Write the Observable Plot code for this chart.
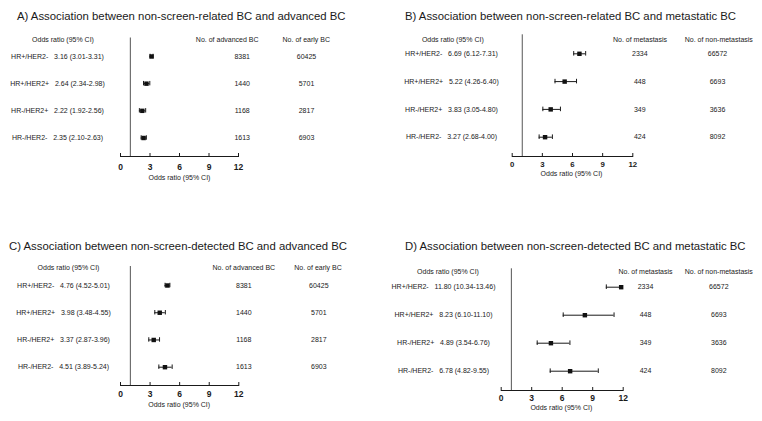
<!DOCTYPE html>
<html>
<head>
<meta charset="utf-8">
<script src="https://cdn.jsdelivr.net/npm/d3@7"></script>
<script src="https://cdn.jsdelivr.net/npm/@observablehq/plot@0.6"></script>
<style>
  body { margin: 0; background: #fff; }
  #fig { position: relative; width: 762px; height: 421px; overflow: hidden;
         font-family: "Liberation Sans", Arial, Helvetica, sans-serif; }
  .title { position: absolute; font-size: 11.35px; line-height: 1; white-space: nowrap; color: #1a1a1a; }
  .panel { position: absolute; }
</style>
</head>
<body>
<div id="fig"></div>
<script>
// Breast cancer subtypes (rows of every forest plot)
const subtypes = ["HR+/HER2-", "HR+/HER2+", "HR-/HER2+", "HR-/HER2-"];
const xTicks = [0, 3, 6, 9, 12];

// Case counts
const countAdvanced = [8381, 1440, 1168, 1613];
const countEarly = [60425, 5701, 2817, 6903];
const countMetastasis = [2334, 448, 349, 424];
const countNonMetastasis = [66572, 6693, 3636, 8092];

// A) non-screen-related BC vs advanced BC
const orA = [3.16, 2.64, 2.22, 2.35];
const loA = [3.01, 2.34, 1.92, 2.10];
const hiA = [3.31, 2.98, 2.56, 2.63];
// B) non-screen-related BC vs metastatic BC
const orB = [6.69, 5.22, 3.83, 3.27];
const loB = [6.12, 4.26, 3.05, 2.68];
const hiB = [7.31, 6.40, 4.80, 4.00];
// C) non-screen-detected BC vs advanced BC
const orC = [4.76, 3.98, 3.37, 4.51];
const loC = [4.52, 3.48, 2.87, 3.89];
const hiC = [5.01, 4.55, 3.96, 5.24];
// D) non-screen-detected BC vs metastatic BC
const orD = [11.80, 8.23, 4.89, 6.78];
const loD = [10.34, 6.10, 3.54, 4.82];
const hiD = [13.46, 11.10, 6.76, 9.55];

const titles = [
  "A) Association between non-screen-related BC and advanced BC",
  "B) Association between non-screen-related BC and metastatic BC",
  "C) Association between non-screen-detected BC and advanced BC",
  "D) Association between non-screen-detected BC and metastatic BC"
];
const orHeader = "Odds ratio (95% CI)";
const axisLabel = "Odds ratio (95% CI)";
const headersAdvanced = ["No. of advanced BC", "No. of early BC"];
const headersMetastasis = ["No. of metastasis", "No. of non-metastasis"];

const INK = "#1a1a1a";
const FONT = '"Liberation Sans", Arial, Helvetica, sans-serif';
const fig = document.getElementById("fig");

// Page layout of each panel (pixel geometry only)
const panels = [
  { title: titles[0], or: orA, lo: loA, hi: hiA, n1: countAdvanced, n2: countEarly, heads: headersAdvanced,
    left: 0, top: 0, height: 210, axis0: 120, axis12: 238, axisY: 156, refTop: 37.5,
    rowFirst: 56, rowLast: 137.5, labelX: 57, headORX: 62.5, headY: 36.7,
    col1X: 241.7, col2X: 306, head1X: 226.7, head2X: 305.8,
    tickY: 167, tickFont: 8.5, axisLabelX: 179, axisLabelY: 179, titleX: 17, titleY: 16.5 },
  { title: titles[1], or: orB, lo: loB, hi: hiB, n1: countMetastasis, n2: countNonMetastasis, heads: headersMetastasis,
    left: 381, top: 0, height: 210, axis0: 511.7, axis12: 632.3, axisY: 156, refTop: 34.3,
    rowFirst: 53.3, rowLast: 136.7, labelX: 451, headORX: 452.3, headY: 36.7,
    col1X: 639.3, col2X: 717, head1X: 639.5, head2X: 718.3,
    tickY: 163.3, tickFont: 7.8, axisLabelX: 571, axisLabelY: 175.7, titleX: 405, titleY: 16.5 },
  { title: titles[2], or: orC, lo: loC, hi: hiC, n1: countAdvanced, n2: countEarly, heads: headersAdvanced,
    left: 0, top: 210, height: 211, axis0: 120, axis12: 238.3, axisY: 385, refTop: 266,
    rowFirst: 285, rowLast: 366.7, labelX: 63, headORX: 68, headY: 265,
    col1X: 243.3, col2X: 318.3, head1X: 243.3, head2X: 317.5,
    tickY: 393.8, tickFont: 8.5, axisLabelX: 178.7, axisLabelY: 406, titleX: 9, titleY: 247 },
  { title: titles[3], or: orD, lo: loD, hi: hiD, n1: countMetastasis, n2: countNonMetastasis, heads: headersMetastasis,
    left: 381, top: 210, height: 211, axis0: 500.7, axis12: 622.7, axisY: 390, refTop: 268.3,
    rowFirst: 286.7, rowLast: 370.7, labelX: 443, headORX: 447.5, headY: 269,
    col1X: 645, col2X: 718.3, head1X: 645, head2X: 718.3,
    tickY: 397.5, tickFont: 8.5, axisLabelX: 560.8, axisLabelY: 409.3, titleX: 405, titleY: 247 }
];

const fmt = v => v.toFixed(2);

function drawPanel(p) {
  const W = 381, H = p.height;
  const rows = subtypes.map((s, i) => ({
    subtype: s, or: p.or[i], lo: p.lo[i], hi: p.hi[i], n1: p.n1[i], n2: p.n2[i]
  }));

  // band scale whose band centres fall on the row baselines
  const pad = 0.836;
  const c0 = p.rowFirst - p.top, c3 = p.rowLast - p.top;
  const step = (c3 - c0) / (subtypes.length - 1);
  const r0 = c0 - step * (1 + pad) / 2;
  const r1 = r0 + step * (subtypes.length + pad);

  const mL = p.axis0 - p.left, mR = p.left + W - p.axis12;
  const mT = p.refTop - p.top, mB = p.top + H - p.axisY;
  const frameH = H - mT - mB;
  const at = x => x - p.axis0;

  const chart = Plot.plot({
    width: W, height: H,
    marginLeft: mL, marginRight: mR, marginTop: mT, marginBottom: mB,
    style: { fontFamily: FONT, fontSize: "7px", color: INK, background: "transparent", overflow: "visible" },
    x: { domain: [0, 12], label: null },
    y: { type: "band", domain: subtypes, range: [r0, r1], padding: pad, round: false, axis: null },
    marks: [
      // reference line at OR = 1
      Plot.ruleX([1], { stroke: "#555", strokeWidth: 1 }),
      // x axis: baseline, upward ticks, bold labels
      Plot.frame({ anchor: "bottom", stroke: INK }),
      Plot.ruleX(xTicks, { stroke: INK, insetTop: frameH - 3 }),
      Plot.axisX({ ticks: xTicks, tickSize: 0, tickPadding: p.tickY - p.axisY - 0.36 * p.tickFont,
                   fontSize: p.tickFont, fontWeight: "bold", label: null, fill: INK }),
      // confidence intervals
      Plot.ruleY(rows, { y: "subtype", x1: "lo", x2: "hi", stroke: INK, strokeWidth: 1, clip: true }),
      Plot.tickX(rows, { x: "lo", y: "subtype", stroke: INK, clip: true }),
      Plot.tickX(rows, { x: "hi", y: "subtype", stroke: INK, clip: true }),
      // point estimates
      Plot.dot(rows, { x: "or", y: "subtype", symbol: "square", r: 2.5, fill: "#111" }),
      // left table: subtype and OR (95% CI)
      Plot.text(rows, {
        y: "subtype", frameAnchor: "left", dx: at(p.labelX), textAnchor: "middle", fill: INK,
        text: d => `${d.subtype}\u00a0\u00a0\u00a0${fmt(d.or)} (${fmt(d.lo)}-${fmt(d.hi)})`
      }),
      // right table: counts
      Plot.text(rows, { y: "subtype", text: d => String(d.n1), frameAnchor: "left", dx: at(p.col1X), textAnchor: "middle", fill: INK }),
      Plot.text(rows, { y: "subtype", text: d => String(d.n2), frameAnchor: "left", dx: at(p.col2X), textAnchor: "middle", fill: INK }),
      // column headers
      Plot.text([orHeader], { text: d => d, frameAnchor: "top-left", dx: at(p.headORX), dy: p.headY - p.refTop, textAnchor: "middle", fill: INK }),
      Plot.text([p.heads[0]], { text: d => d, frameAnchor: "top-left", dx: at(p.head1X), dy: p.headY - p.refTop, textAnchor: "middle", fill: INK }),
      Plot.text([p.heads[1]], { text: d => d, frameAnchor: "top-left", dx: at(p.head2X), dy: p.headY - p.refTop, textAnchor: "middle", fill: INK }),
      // x axis title
      Plot.text([axisLabel], { text: d => d, frameAnchor: "bottom-left", dx: at(p.axisLabelX), dy: p.axisLabelY - p.axisY, textAnchor: "middle", fill: INK })
    ]
  });
  chart.classList.add("panel");
  chart.style.left = p.left + "px";
  chart.style.top = p.top + "px";
  fig.appendChild(chart);

  const t = document.createElement("div");
  t.className = "title";
  t.textContent = p.title;
  t.style.left = p.titleX + "px";
  t.style.top = (p.titleY - 5.6) + "px";
  fig.appendChild(t);
}

panels.forEach(drawPanel);
</script>
</body>
</html>
